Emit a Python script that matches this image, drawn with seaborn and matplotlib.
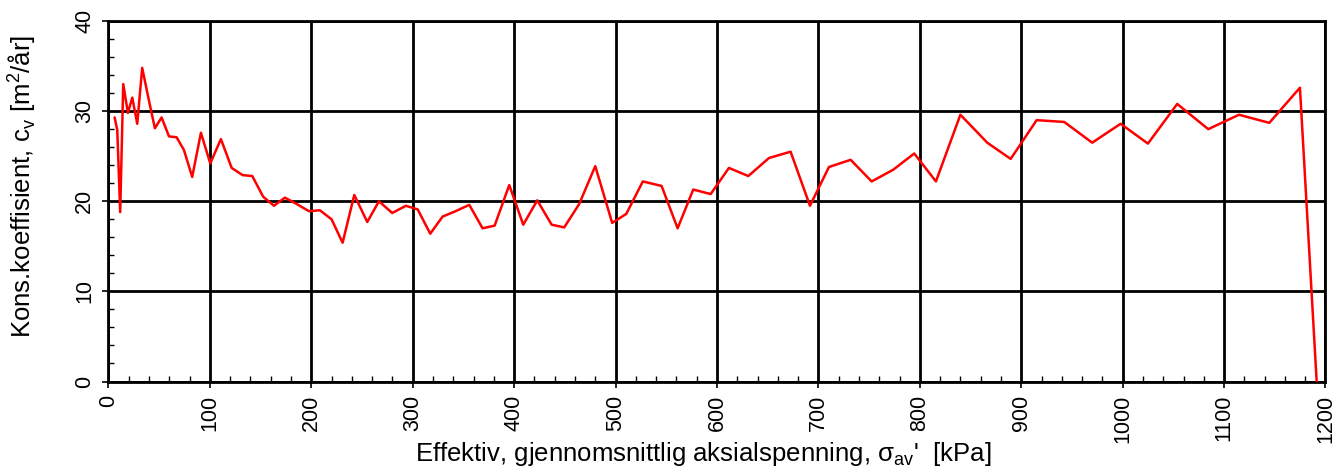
import matplotlib
matplotlib.use("Agg")
import matplotlib.pyplot as plt
from matplotlib.ticker import MultipleLocator
import seaborn as sns
import pandas as pd

stress_kpa = [6.1, 8.7, 11.6, 14.6, 19.2, 23.5, 28.4, 33.3, 39.9, 45.8, 52.4, 59.7,
              67.2, 74.4, 82.6, 91.2, 100.4, 110.9, 121.5, 132.3, 141.8, 152.6, 163.2,
              174.0, 185.6, 197.7, 208.5, 220.0, 230.9, 242.4, 255.2, 266.7, 279.8,
              293.3, 304.9, 317.3, 329.5, 342.3, 355.8, 368.9, 380.8, 395.2, 409.0,
              422.8, 437.0, 449.4, 464.2, 480.0, 496.7, 510.6, 526.9, 545.4, 561.2,
              576.6, 593.8, 611.8, 630.9, 651.3, 672.6, 691.7, 710.4, 731.8, 752.5,
              773.8, 794.5, 815.9, 840.0, 866.5, 889.6, 915.2, 942.4, 970.0, 998.0,
              1024.9, 1053.8, 1084.4, 1114.7, 1144.6, 1174.8, 1191.3]
cv_m2_per_year = [29.3, 27.9, 18.8, 33.0, 29.8, 31.5, 28.6, 34.8, 31.2, 28.1, 29.3, 27.2,
                  27.1, 25.7, 22.7, 27.6, 24.2, 26.9, 23.7, 22.9, 22.8, 20.5, 19.5,
                  20.4, 19.7, 18.9, 19.0, 18.0, 15.4, 20.7, 17.7, 20.0, 18.7,
                  19.5, 19.1, 16.4, 18.3, 18.9, 19.6, 17.0, 17.3, 21.8, 17.4,
                  20.1, 17.4, 17.1, 19.7, 23.9, 17.6, 18.6, 22.2, 21.7, 17.0,
                  21.3, 20.8, 23.7, 22.8, 24.8, 25.5, 19.5, 23.8, 24.6, 22.2,
                  23.5, 25.3, 22.2, 29.6, 26.5, 24.7, 29.0, 28.8, 26.5, 28.6,
                  26.4, 30.8, 28.0, 29.6, 28.7, 32.6, 0.0]

x_ticks = list(range(0, 1201, 100))
y_ticks = [0, 10, 20, 30, 40]

df = pd.DataFrame({"stress": stress_kpa, "cv": cv_m2_per_year})

sns.set_theme(style="white")
plt.rcParams["font.family"] = ["Liberation Sans", "DejaVu Sans"]
plt.rcParams["mathtext.fontset"] = "custom"
plt.rcParams["mathtext.rm"] = "Liberation Sans"

fig = plt.figure(figsize=(13.42, 4.68), dpi=100)
ax = fig.add_axes([0.0808, 0.1848, 0.9069, 0.7703])

sns.lineplot(data=df, x="stress", y="cv", sort=False, color="#ff0000",
             linewidth=1.8, ax=ax, zorder=3)

ax.set_xlim(0, 1200)
ax.set_ylim(0, 40)
ax.set_xticks(x_ticks)
ax.set_yticks(y_ticks)
ax.xaxis.set_minor_locator(MultipleLocator(20))
ax.yaxis.set_minor_locator(MultipleLocator(2))
ax.grid(True, which="major", color="black", linewidth=2.0, zorder=1)
ax.set_axisbelow(True)
for s in ax.spines.values():
    s.set_color("black")
    s.set_linewidth(2.0)
    s.set_visible(True)

ax.tick_params(axis="both", which="major", direction="out", length=4.5, width=1.2,
               pad=5, color="black", labelsize=15.5, labelcolor="black",
               bottom=True, left=True)
ax.tick_params(axis="both", which="minor", direction="in", length=4, width=1.0,
               color="black", bottom=True, left=True)
for lab in ax.get_xticklabels():
    lab.set_rotation(90)
for lab in ax.get_yticklabels():
    lab.set_rotation(90)
    lab.set_va("center")

ax.set_xlabel("Effektiv, gjennomsnittlig aksialspenning, σ$_{\\mathregular{av}}$'  [kPa]",
              fontsize=18.5, color="black")
ax.xaxis.label.set_va("baseline")
ax.xaxis.set_label_coords(0.489, -0.2205)
ax.set_ylabel("Kons.koeffisient, c$_{\\mathregular{v}}$ [m$^{\\mathregular{2}}$/år]",
              fontsize=18.5, color="black")
ax.yaxis.set_label_coords(-0.058, 0.54)

fig.savefig("out.png", dpi=100, facecolor="white")
